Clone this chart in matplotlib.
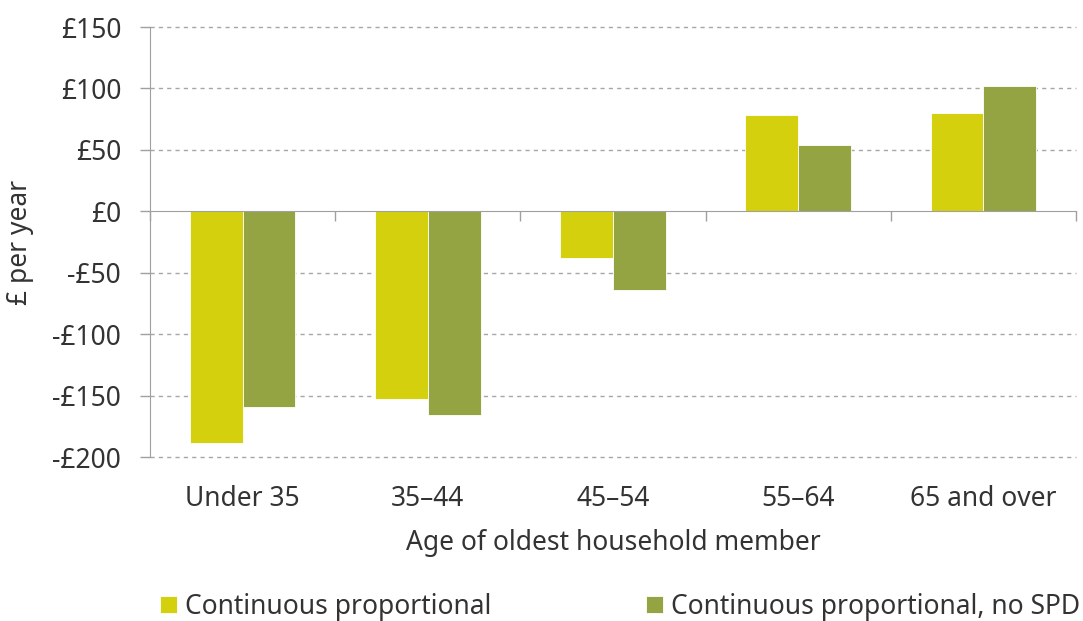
import matplotlib
matplotlib.use("Agg")
import matplotlib.pyplot as plt
import numpy as np
from matplotlib.ticker import FuncFormatter

plt.rcParams['font.family'] = ['Noto Sans', 'DejaVu Sans']

categories = ["Under 35", "35\u201344", "45\u201354", "55\u201364", "65 and over"]
series_names = ["Continuous proportional", "Continuous proportional, no SPD"]
cont_prop = [-189, -153, -38, 78, 80]
cont_prop_no_spd = [-159, -166, -64, 54, 102]
y_ticks = [-200, -150, -100, -50, 0, 50, 100, 150]

c_yellow = '#D4D00E'
c_green = '#95A443'
text_c = '#333333'
axis_c = '#A0A0A0'
FS = 19

fig = plt.figure(figsize=(10.83, 6.21), dpi=100)
ax = fig.add_axes([150/1083, 1-457/621, (1076-150)/1083, (457-27)/621])

x = np.arange(len(categories))
w = 0.285
b1 = ax.bar(x - w/2, cont_prop, w, color=c_yellow, edgecolor='white', linewidth=0.6, label=series_names[0], zorder=3)
b2 = ax.bar(x + w/2, cont_prop_no_spd, w, color=c_green, edgecolor='white', linewidth=0.6, label=series_names[1], zorder=3)

ax.set_xlim(-0.5, len(categories) - 0.5)
ax.set_ylim(-200, 150)
ax.set_yticks(y_ticks)
ax.yaxis.set_major_formatter(FuncFormatter(lambda v, p: ("-\u00a3%d" % abs(v)) if v < 0 else ("\u00a3%d" % v)))
ax.tick_params(axis='y', length=7.2, width=1, color=axis_c, labelsize=FS, labelcolor=text_c, pad=13.5)

for v in y_ticks:
    if v != 0:
        ax.axhline(v, color='#A6A6A6', linestyle=(0, (3, 3)), linewidth=1, zorder=1, clip_on=False)

for s in ['top', 'right']:
    ax.spines[s].set_visible(False)
ax.spines['left'].set_color(axis_c)
ax.spines['left'].set_zorder(4)
ax.spines['bottom'].set_position(('data', 0))
ax.spines['bottom'].set_color(axis_c)
ax.spines['bottom'].set_zorder(4)

ax.set_xticks(np.arange(len(categories) + 1) - 0.5)
ax.set_xticklabels([])
ax.tick_params(axis='x', length=7.2, width=1, color=axis_c)

sec = ax.secondary_xaxis('bottom')
sec.set_xticks(x)
sec.set_xticklabels(categories)
sec.tick_params(axis='x', length=0, labelsize=FS, labelcolor=text_c, pad=20)
sec.spines['bottom'].set_visible(False)
sec.set_xlabel("Age of oldest household member", fontsize=FS, color=text_c, labelpad=12)

ax.set_ylabel("\u00a3 per year", fontsize=FS, color=text_c, labelpad=13)

fig.legend(handles=[b1, b2], labels=series_names, loc='center left',
           bbox_to_anchor=(160/1083, 1-607/621), ncol=2, frameon=False,
           fontsize=FS, handlelength=0.64, handleheight=0.64, handletextpad=0.3,
           columnspacing=5.87, borderpad=0, borderaxespad=0, labelcolor=text_c)

fig.savefig("out.png", dpi=100)
